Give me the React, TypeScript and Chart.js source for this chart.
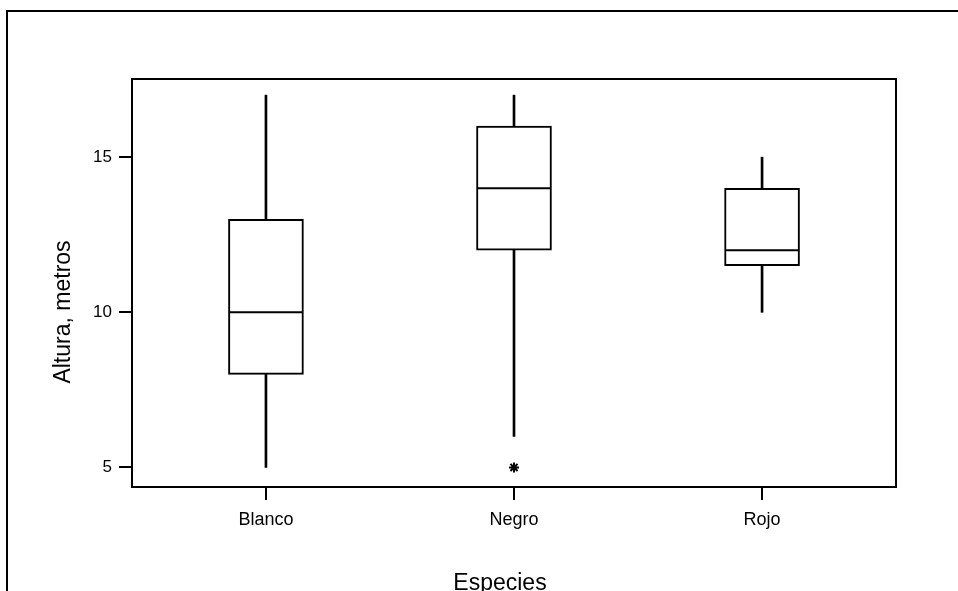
import React, { useEffect, useRef } from 'react';
import { Chart, registerables } from 'chart.js';

Chart.register(...registerables);

// ---- data ----
const categories = ['Blanco', 'Negro', 'Rojo'];
const whiskerLow = [5, 6, 10];
const q1 = [8, 12, 11.5];
const medians = [10, 14, 12];
const q3 = [13, 16, 14];
const whiskerHigh = [17, 17, 15];
const outlierCategoryIndex = [1];
const outlierValues = [5];
const yTicks = [5, 10, 15];
const xTitle = 'Especies';
const yTitle = 'Altura, metros';

const FONT = '"Liberation Sans", Arial, Helvetica, sans-serif';

const framePlugin = {
  id: 'frameAndTitles',
  afterDraw(chart: any) {
    const { ctx, chartArea } = chart;
    ctx.save();
    ctx.strokeStyle = '#000';
    ctx.lineWidth = 2;
    // plot frame
    ctx.strokeRect(chartArea.left, chartArea.top, chartArea.right - chartArea.left, chartArea.bottom - chartArea.top);
    // outer frame (left and top edges visible)
    ctx.beginPath();
    ctx.moveTo(7, chart.height);
    ctx.lineTo(7, 11);
    ctx.lineTo(chart.width, 11);
    ctx.stroke();
    // axis titles
    ctx.fillStyle = '#000';
    ctx.font = `23px ${FONT}`;
    ctx.textAlign = 'center';
    ctx.textBaseline = 'alphabetic';
    ctx.fillText(xTitle, 500, 590);
    ctx.translate(70, 312);
    ctx.rotate(-Math.PI / 2);
    ctx.fillText(yTitle, 0, 0);
    ctx.restore();
  },
};

export default function App() {
  const ref = useRef<HTMLCanvasElement | null>(null);

  useEffect(() => {
    if (!ref.current) return;
    const xs = categories.map((_, i) => i + 1);
    const chart = new Chart(ref.current, {
      type: 'bar',
      data: {
        datasets: [
          // medians (drawn on top)
          {
            type: 'line',
            order: 0,
            data: xs.map((x, i) => ({ x, y: medians[i] })),
            showLine: false,
            pointStyle: 'line',
            pointRadius: 37,
            pointBorderWidth: 2,
            pointBorderColor: '#000',
            borderColor: '#000',
          } as any,
          // outliers
          {
            type: 'scatter',
            order: 1,
            data: outlierCategoryIndex.map((ci, k) => ({ x: ci + 1, y: outlierValues[k] })),
            pointStyle: 'star',
            pointRadius: 5,
            pointBorderWidth: 2,
            pointBorderColor: '#000',
            borderColor: '#000',
            backgroundColor: '#000',
          } as any,
          // boxes
          {
            type: 'bar',
            order: 2,
            data: xs.map((x, i) => ({ x, y: [q1[i], q3[i]] })),
            backgroundColor: '#fff',
            borderColor: '#000',
            borderWidth: 2,
            borderSkipped: false,
            barThickness: 75,
            grouped: false,
          } as any,
          // lower whiskers
          {
            type: 'bar',
            order: 3,
            data: xs.map((x, i) => ({ x, y: [whiskerLow[i], q1[i]] })),
            backgroundColor: '#000',
            borderWidth: 0,
            barThickness: 2,
            grouped: false,
          } as any,
          // upper whiskers
          {
            type: 'bar',
            order: 4,
            data: xs.map((x, i) => ({ x, y: [q3[i], whiskerHigh[i]] })),
            backgroundColor: '#000',
            borderWidth: 0,
            barThickness: 2,
            grouped: false,
          } as any,
        ],
      },
      options: {
        animation: false,
        responsive: false,
        devicePixelRatio: 1,
        layout: { padding: { left: 0, right: 62, top: 79, bottom: 0 } },
        plugins: { legend: { display: false }, tooltip: { enabled: false } },
        scales: {
          x: {
            type: 'linear',
            min: 0.46,
            max: 3.54,
            offset: false,
            grid: { display: true, drawOnChartArea: false, drawTicks: true, tickLength: 13, color: '#000', lineWidth: 2, offset: false },
            border: { display: true, color: '#000', width: 2 },
            ticks: {
              color: '#000',
              font: { family: FONT, size: 18 },
              padding: 9,
              autoSkip: false,
              maxRotation: 0,
              callback: (v: any) => categories[Number(v) - 1] ?? '',
            },
            afterBuildTicks: (s: any) => {
              s.ticks = xs.map((v) => ({ value: v }));
            },
            afterFit: (s: any) => {
              s.height = 104;
            },
          },
          y: {
            type: 'linear',
            min: 4.37,
            max: 17.52,
            grid: { display: true, drawOnChartArea: false, drawTicks: true, tickLength: 13, color: '#000', lineWidth: 2 },
            border: { display: true, color: '#000', width: 2 },
            ticks: {
              color: '#000',
              font: { family: FONT, size: 17 },
              padding: 7,
            },
            afterBuildTicks: (s: any) => {
              s.ticks = yTicks.map((v) => ({ value: v }));
            },
            afterFit: (s: any) => {
              s.width = 132;
            },
          },
        },
      } as any,
      plugins: [framePlugin],
    });
    return () => chart.destroy();
  }, []);

  return (
    <div style={{ position: 'fixed', left: 0, top: 0, width: 958, height: 591, background: '#fff' }}>
      <canvas ref={ref} width={958} height={591} style={{ width: 958, height: 591, display: 'block' }} />
    </div>
  );
}
